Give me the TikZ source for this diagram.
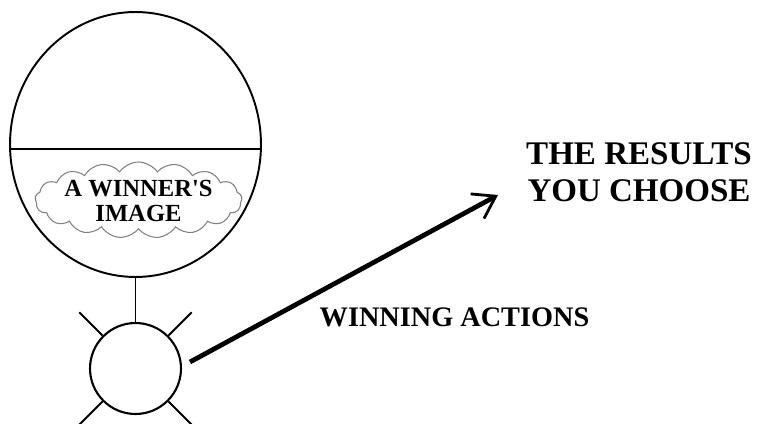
\documentclass[tikz,border=0pt]{standalone}
\usepackage{fontspec}
\setmainfont{Liberation Serif}
\usepackage{tikz}
\usetikzlibrary{arrows.meta,positioning,shapes.geometric,shapes.symbols}

\begin{document}
\begin{tikzpicture}[
  x=0.02cm,y=0.02cm,
  mind/.style={ellipse,draw,line width=1.1pt,minimum width=5.02cm,
    minimum height=5.3cm,inner sep=0pt},
  body/.style={circle,draw,line width=1.2pt,minimum size=1.82cm,inner sep=0pt},
  thought/.style={cloud,cloud puffs=17,cloud puff arc=110,cloud ignores aspect,
    draw=gray,line width=0.6pt,minimum width=4.14cm,minimum height=1.52cm,
    inner sep=0pt},
  ray/.style={line width=1.1pt},
  arr/.style={-{Straight Barb[length=4.2mm,width=5.6mm,line width=1.6pt]},
    line width=2.7pt},
  lbl/.style={font=\bfseries,align=center}
]
\useasboundingbox (0,0) rectangle (760,423);
\node[mind] (mind) at (135.5,278.5) {};
\draw[line width=1.1pt] ([yshift=-0.09cm]mind.west) -- ([yshift=-0.09cm]mind.east);
\node[thought] (image) at (138.5,223) {};
\node[lbl,font=\fontsize{14}{14.3}\selectfont\bfseries] (imgtext) at (138.5,222)
  {A WINNER\textquotesingle S\\IMAGE};
\node[body] (body) at (135.5,54.5) {};
\draw[line width=1.1pt] (mind.south) -- (body.north);
\foreach \a in {45,135,225,315}
  \draw[ray] (body.\a) -- ++(\a:33);
\coordinate (start) at (190,61);
\coordinate (tip) at (498,228);
\draw[arr] (start) -- (tip);
\node[lbl,font=\fontsize{18.8}{21}\selectfont\bfseries] (results) at (639,251)
  {THE RESULTS\\YOU CHOOSE};
\node[lbl,font=\fontsize{16.1}{17}\selectfont\bfseries] (actions) at (454.5,106)
  {WINNING ACTIONS};
\end{tikzpicture}
\end{document}
